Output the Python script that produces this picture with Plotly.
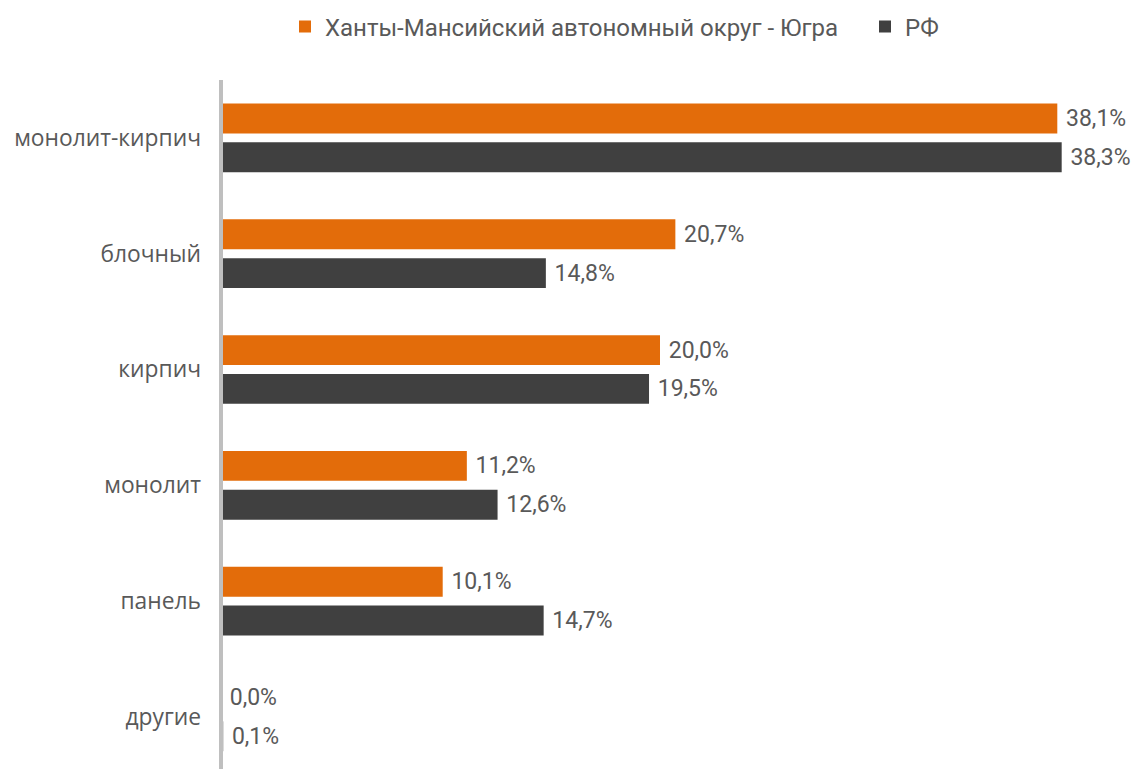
import plotly.graph_objects as go

categories = ["монолит-кирпич", "блочный", "кирпич", "монолит", "панель", "другие"]
ugra = [38.1, 20.7, 20.0, 11.2, 10.1, 0.0]
rf = [38.3, 14.8, 19.5, 12.6, 14.7, 0.1]
series_names = ["Ханты-Мансийский автономный округ - Югра", "РФ"]

ORANGE = "#E36C0A"
DARK = "#404040"
TEXT = "#595959"
AXIS = "#BFBFBF"

W, H = 1132, 761

fig = go.Figure()
for name, vals, col, lg in [(series_names[0], ugra, ORANGE, "legend"),
                            (series_names[1], rf, DARK, "legend2")]:
    fig.add_trace(go.Bar(
        y=categories, x=vals, name=name, orientation="h", legend=lg,
        marker=dict(color=col, line=dict(width=0)),
        texttemplate=" %{x:.1f}%", textposition="outside",
        textfont=dict(family="Roboto", size=23, color=TEXT),
        constraintext="none",
        cliponaxis=False,
    ))

legend_common = dict(orientation="h", xref="container", yref="container",
                     xanchor="left", yanchor="middle", y=1 - 19 / H,
                     font=dict(family="Roboto", size=24, color=TEXT),
                     bgcolor="rgba(0,0,0,0)")

fig.update_layout(
    width=W, height=H,
    paper_bgcolor="white", plot_bgcolor="white",
    margin=dict(l=213, r=41, t=72, b=0),
    barmode="group", bargap=0.33, bargroupgap=0.23,
    separators=", ",
    font=dict(family="Roboto", color=TEXT, size=18),
    legend=dict(x=277 / W, **legend_common),
    legend2=dict(x=857 / W, **legend_common),
    showlegend=True,
)
# category axis line along the left edge of the plot, drawn over the bars' base
fig.add_shape(type="line", xref="paper", yref="paper", x0=0, x1=0, y0=0, y1=1,
              line=dict(color=AXIS, width=4), layer="above")
fig.update_xaxes(range=[0, 40], showgrid=False, zeroline=False, showticklabels=False,
                 showline=False, automargin=False)
fig.update_yaxes(range=[5.45, -0.5], showgrid=False, zeroline=False,
                 showline=False, ticks="", ticklabelstandoff=19, automargin=False,
                 tickfont=dict(family="Open Sans", size=22.8, color=TEXT))

fig.write_html("out.html")
